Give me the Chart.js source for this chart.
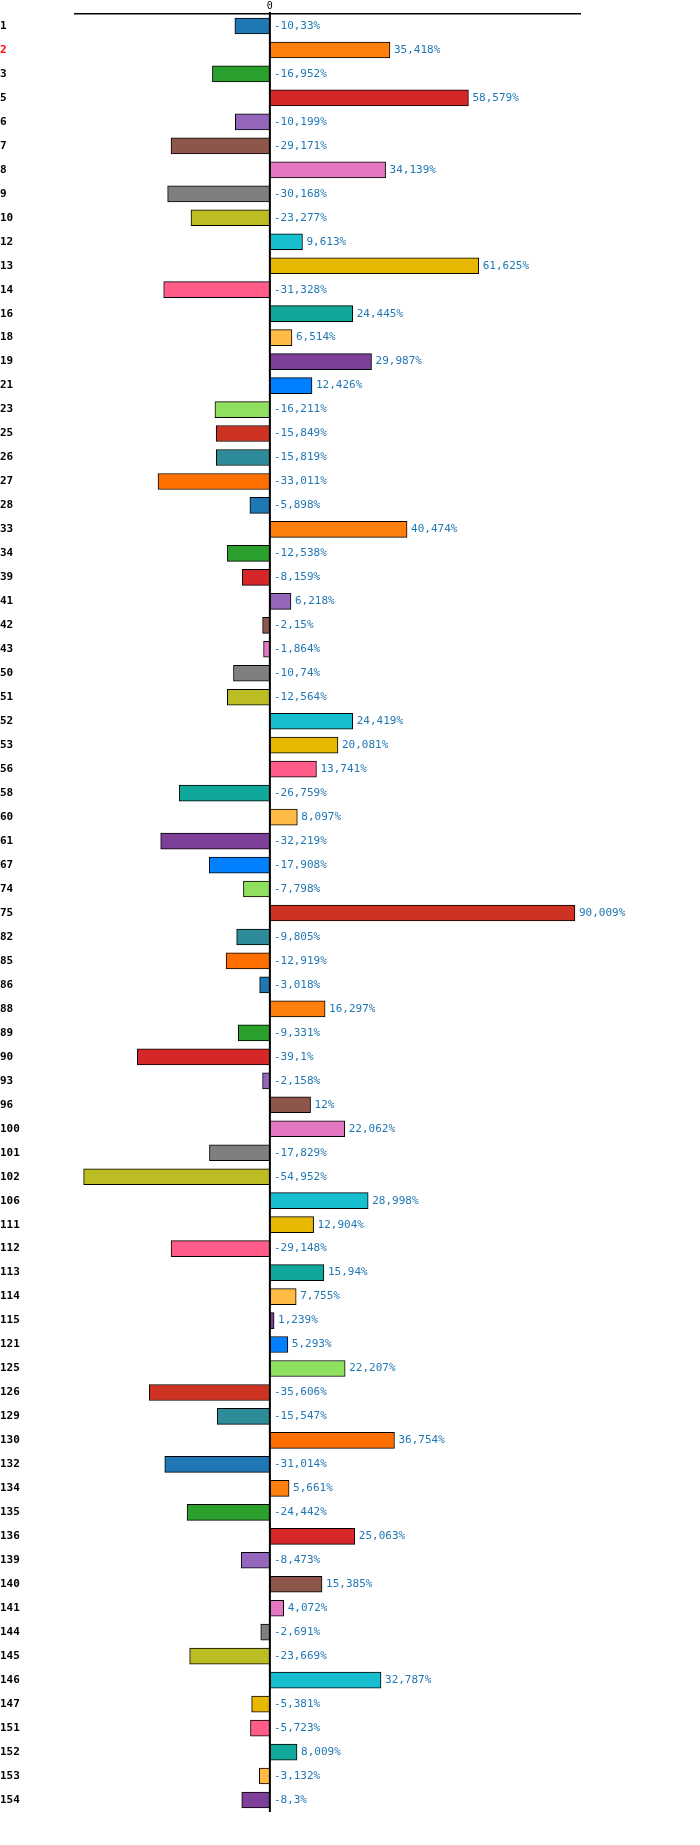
<!DOCTYPE html>
<html><head><meta charset="utf-8">
<script src="https://cdn.jsdelivr.net/npm/chart.js@4/dist/chart.umd.min.js"></script>
<style>html,body{margin:0;padding:0;background:#fff}#w{width:700px;height:1845px}</style>
</head><body><div id="w"><canvas id="c"></canvas></div>
<script>
const categories=["1","2","3","5","6","7","8","9","10","12","13","14","16","18","19","21","23","25","26","27","28","33","34","39","41","42","43","50","51","52","53","56","58","60","61","67","74","75","82","85","86","88","89","90","93","96","100","101","102","106","111","112","113","114","115","121","125","126","129","130","132","134","135","136","139","140","141","144","145","146","147","151","152","153","154"];
const values=[-10.33,35.418,-16.952,58.579,-10.199,-29.171,34.139,-30.168,-23.277,9.613,61.625,-31.328,24.445,6.514,29.987,12.426,-16.211,-15.849,-15.819,-33.011,-5.898,40.474,-12.538,-8.159,6.218,-2.15,-1.864,-10.74,-12.564,24.419,20.081,13.741,-26.759,8.097,-32.219,-17.908,-7.798,90.009,-9.805,-12.919,-3.018,16.297,-9.331,-39.1,-2.158,12,22.062,-17.829,-54.952,28.998,12.904,-29.148,15.94,7.755,1.239,5.293,22.207,-35.606,-15.547,36.754,-31.014,5.661,-24.442,25.063,-8.473,15.385,4.072,-2.691,-23.669,32.787,-5.381,-5.723,8.009,-3.132,-8.3];
const palette=["#1f77b4","#ff7f0e","#2ca02c","#d62728","#9467bd","#8c564b","#e377c2","#7f7f7f","#bcbd22","#17becf","#e6b800","#ff5c8a","#0fa89a","#ffbb44","#7e3f98","#0080ff","#90e060","#cc3322","#2e8b9a","#ff6f00"];
const colors=values.map((v,i)=>palette[i%palette.length]);
const fmt=v=>String(v).replace('.',',')+'%';
const labelsPlugin={id:'lbl',afterDatasetsDraw(ch){
  const ctx=ch.ctx,x=ch.scales.x,meta=ch.getDatasetMeta(0);
  const x0=x.getPixelForValue(0);
  ctx.save();
  ctx.strokeStyle='#000';ctx.lineWidth=2;ctx.beginPath();
  ctx.moveTo(x0,ch.chartArea.top-2);ctx.lineTo(x0,ch.chartArea.bottom);ctx.stroke();
  ctx.font='11px "DejaVu Sans Mono", monospace';ctx.fillStyle='#1f77b4';ctx.textBaseline='middle';ctx.textAlign='left';
  meta.data.forEach((b,i)=>{const v=values[i];const px=v>0?b.x+4:x0+4;ctx.fillText(fmt(v),px,b.y);});
  ctx.restore();
}};
new Chart(document.getElementById('c'),{type:'bar',
 data:{labels:categories,datasets:[{data:values,backgroundColor:colors,borderColor:'#000',borderWidth:1,borderSkipped:false,barThickness:16}]},
 options:{indexAxis:'y',responsive:true,maintainAspectRatio:false,animation:false,
  layout:{padding:{left:0,right:120,top:0,bottom:33}},
  plugins:{legend:{display:false},tooltip:{enabled:false}},
  scales:{
   x:{position:'top',min:-57.5,max:91.5,grid:{display:false,drawTicks:false},border:{display:true,color:'#000',width:1.5},
      afterBuildTicks(s){s.ticks=[{value:0}];},afterFit(s){s.height=14;},
      ticks:{padding:2,color:'#000',font:{family:'DejaVu Sans Mono',size:10}}},
   y:{grid:{display:false,drawTicks:false},border:{display:false},afterFit(s){s.width=75;},
      ticks:{crossAlign:'far',padding:0,autoSkip:false,font:{family:'DejaVu Sans Mono',size:11,weight:'bold'},
        color:c=>c.index===1?'#ff0000':'#000'}}
  }},
 plugins:[labelsPlugin]});
</script></body></html>
